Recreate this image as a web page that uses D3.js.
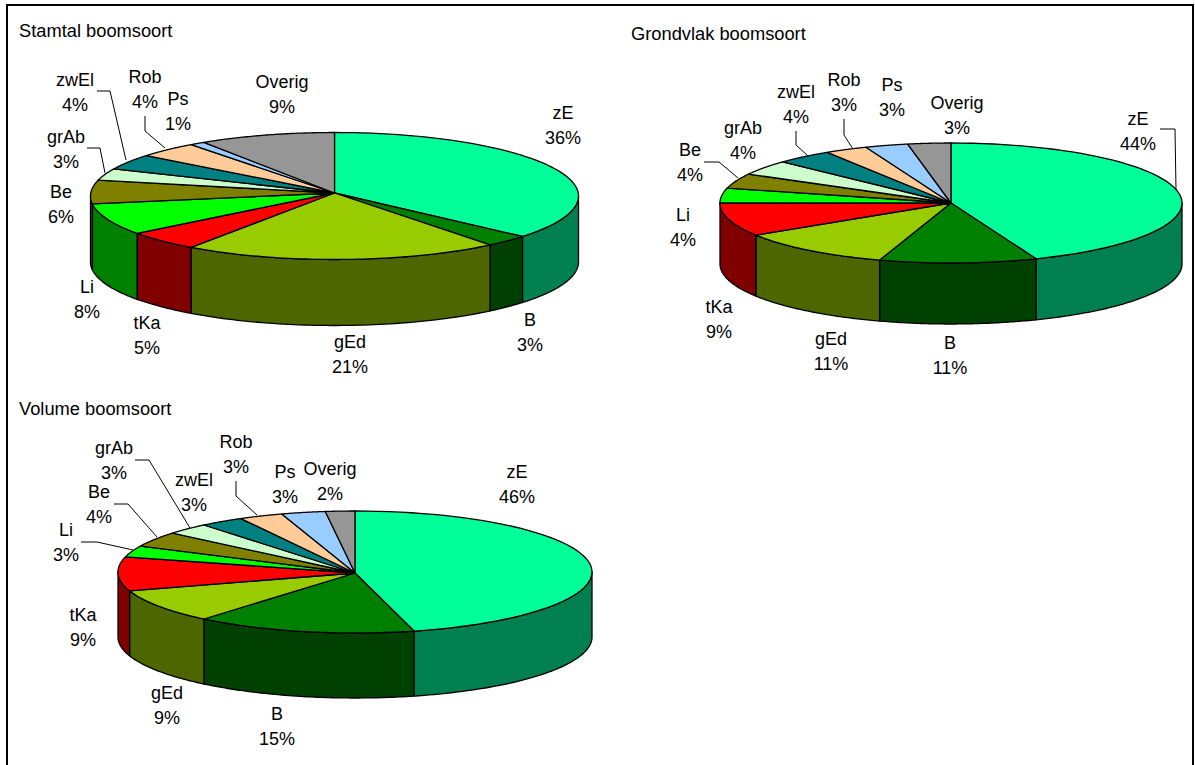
<!DOCTYPE html>
<html>
<head>
<meta charset="utf-8">
<script src="https://cdn.jsdelivr.net/npm/d3@7"></script>
<style>
  html, body { margin: 0; padding: 0; background: #fff; }
  svg { display: block; }
  text { font-family: "Liberation Sans", Arial, sans-serif; font-size: 18px; fill: #000; text-anchor: middle; }
  .title { font-size: 18.3px; text-anchor: start; }
</style>
</head>
<body>
<svg id="chart" width="1195" height="765"></svg>
<script>
// Species shared by the three tilted pies
const species = ["zE", "B", "gEd", "tKa", "Li", "Be", "grAb", "zwEl", "Rob", "Ps", "Overig"];

// Share per species, in percent
const stamtal   = [36, 3, 21, 5, 8, 6, 3, 4, 4, 1, 9];
const grondvlak = [44, 11, 11, 9, 4, 4, 4, 4, 3, 3, 3];
const volume    = [46, 15, 9, 9, 3, 4, 3, 3, 3, 3, 2];

// Slice colours: top surface and the darker rim
const topColors  = ["#00FF99", "#008000", "#99CC00", "#FF0000", "#00FF00", "#808000", "#CCFFCC", "#008080", "#FFCC99", "#99CCFF", "#969696"];
const sideColors = ["#008050", "#004000", "#4D6600", "#800000", "#008000", "#404000", "#669966", "#004040", "#806650", "#506680", "#4B4B4B"];

// Layout of each pie: ellipse, apex, rim depth, title and label anchors per species
const layouts = [
  {
    title: "Stamtal boomsoort", titleX: 19, titleY: 37,
    values: stamtal, cx: 334.5, cy: 196, ry: 63.5, rx: 244, apexY: 193, depth: 66,
    labels: [[563,113],[530,320],[350,342],[147,323],[87,287],[61,192],[66,137],[75,80],[145,77],[178,99],[282,82]],
    leaders: [
      [[87,148],[100,148],[105,173]],
      [[97,91],[110,91],[126,160]],
      [[145,116],[145,131],[165,148]]
    ]
  },
  {
    title: "Grondvlak boomsoort", titleX: 631, titleY: 40,
    values: grondvlak, cx: 951, cy: 203, ry: 60, rx: 231, apexY: 203, depth: 61,
    labels: [[1138,119],[950,343],[831,339],[719,307],[683,215],[690,150],[743,128],[796,92],[844,80],[892,85],[957,103]],
    leaders: [
      [[704,162],[719,162],[738,178]],
      [[796,131],[796,145],[808,156]],
      [[844,119],[844,135],[853,149]],
      [[1160,129],[1175,129],[1176,190]]
    ]
  },
  {
    title: "Volume boomsoort", titleX: 19, titleY: 415,
    values: volume, cx: 355, cy: 572, ry: 61, rx: 237, apexY: 573, depth: 65,
    labels: [[517,472],[277,714],[167,693],[83,615],[66,530],[99,492],[114,448],[194,480],[236,442],[285,472],[330,469]],
    leaders: [
      [[81,542],[97,542],[133,550]],
      [[114,504],[128,504],[157,537]],
      [[135,460],[149,460],[190,528]],
      [[236,481],[236,496],[257,515]]
    ]
  }
];

const svg = d3.select("#chart");

// Outer frame, open towards the bottom of the sheet
svg.append("path")
  .attr("d", d3.line()([[7, 770], [7, 5], [1193, 5], [1193, 770]]))
  .attr("fill", "none").attr("stroke", "#000").attr("stroke-width", 2);

const pie = d3.pie().sort(null).startAngle(0).endAngle(2 * Math.PI);
const lineGen = d3.line();
const OUTLINE = 1.3;

layouts.forEach(drawPie);

function drawPie(cfg) {
  const g = svg.append("g");
  const x = d3.scaleLinear().domain([-1, 1]).range([cfg.cx - cfg.rx, cfg.cx + cfg.rx]);
  const y = d3.scaleLinear().domain([-1, 1]).range([cfg.cy + cfg.ry, cfg.cy - cfg.ry]);
  const pt = (a, dy = 0) => [x(Math.sin(a)), y(Math.cos(a)) + dy];
  const arcPoints = (a0, a1, dy = 0) => d3.range(0, 61).map(i => pt(a0 + (a1 - a0) * i / 60, dy));

  const slices = pie(cfg.values);

  // Rim: only the part of each slice facing the viewer (bottom half of the ellipse)
  const rimG = g.append("g");
  slices.forEach((s, i) => {
    const a0 = Math.max(s.startAngle, Math.PI / 2);
    const a1 = Math.min(s.endAngle, 3 * Math.PI / 2);
    if (a1 <= a0) return;
    const top = arcPoints(a0, a1);
    const bottom = arcPoints(a1, a0, cfg.depth);
    rimG.append("path")
      .attr("d", lineGen(top.concat(bottom)) + "Z")
      .attr("fill", sideColors[i]).attr("stroke", "#000").attr("stroke-width", OUTLINE)
      .attr("stroke-linejoin", "round");
  });

  // Top surface
  g.append("g").selectAll("path").data(slices).join("path")
    .attr("d", s => lineGen([[cfg.cx, cfg.apexY], ...arcPoints(s.startAngle, s.endAngle)]) + "Z")
    .attr("fill", (s, i) => topColors[i])
    .attr("stroke", "#000").attr("stroke-width", OUTLINE).attr("stroke-linejoin", "round");

  // Leader lines from the outlying labels
  g.append("g").selectAll("path").data(cfg.leaders).join("path")
    .attr("d", d => lineGen(d))
    .attr("fill", "none").attr("stroke", "#000").attr("stroke-width", 1);

  // Title
  g.append("text").attr("class", "title").attr("x", cfg.titleX).attr("y", cfg.titleY).text(cfg.title);

  // Two-line labels: species name above its percentage
  const labels = g.append("g").selectAll("text").data(species).join("text")
    .attr("transform", (d, i) => `translate(${cfg.labels[i][0]},${cfg.labels[i][1] + 6})`);
  labels.append("tspan").attr("x", 0).attr("y", 0).text(d => d);
  labels.append("tspan").attr("x", 0).attr("y", 24.5).text((d, i) => cfg.values[i] + "%");
}
</script>
</body>
</html>
